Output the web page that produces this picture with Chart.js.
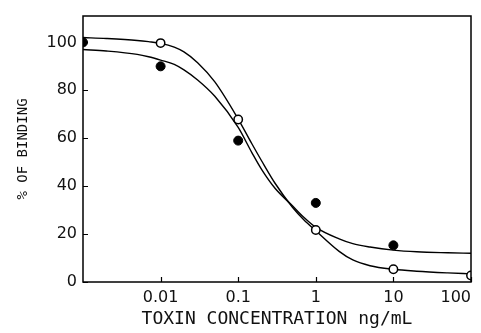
<!DOCTYPE html>
<html lang="en">

<head>
    <meta charset="UTF-8">
    <title>% of Binding vs Toxin Concentration</title>
    <style>
        html, body { margin: 0; padding: 0; background: #fff; }
        #wrap { width: 481px; height: 333px; }
    </style>
</head>

<body>
    <div id="wrap">
        <canvas id="myChart" width="481" height="333"></canvas>
    </div>

    <script src="https://cdn.jsdelivr.net/npm/chart.js@4.4.2/dist/chart.umd.min.js"></script>

    <script>
        // measured points
        var filledConc = [0.001, 0.01, 0.1, 1, 10];
        var filledBinding = [100, 90, 59, 33, 15.3];
        var openConc = [0.01, 0.1, 1, 10, 100];
        var openBinding = [99.7, 67.8, 21.7, 5.3, 2.7];

        // fitted curves
        var curveConc = [0.001, 0.002, 0.005, 0.007, 0.01, 0.015, 0.02, 0.03, 0.05, 0.1, 0.15, 0.2, 0.3, 0.5, 0.7, 1, 2, 3, 5, 10, 20, 50, 100];
        var openCurve = [102, 101.6, 100.8, 100.3, 99.6, 98.0, 96, 91.5, 83.5, 68, 57.7, 50.6, 41.1, 31.2, 26.0, 21.4, 12.8, 9.2, 6.8, 5.3, 4.5, 3.8, 3.4];
        var filledCurve = [97, 96.4, 95, 94, 92.6, 90.8, 88.5, 84.3, 77.5, 64.5, 54, 47, 39, 31.8, 27, 22.8, 18, 16, 14.6, 13.3, 12.6, 12.2, 12];

        // first entry is a blank slot at the left edge so the last label can sit inside
        var xTicks = [0.001, 0.01, 0.1, 1, 10, 100];
        var xTickLabels = ['', '0.01', '0.1', '1', '10', '100'];
        var yTicks = [0, 20, 40, 60, 80, 100];

        var toXY = function (xs, ys) {
            var out = [];
            for (var i = 0; i < xs.length; i++) {
                out.push({ x: xs[i], y: ys[i] });
            }
            return out;
        };

        // clip marks to the plot box, then draw the box and inward tick marks
        var framePlugin = {
            id: 'frame',
            beforeDatasetsDraw: function (chart) {
                var a = chart.chartArea;
                chart.ctx.save();
                chart.ctx.beginPath();
                chart.ctx.rect(a.left, a.top, a.right - a.left, a.bottom - a.top);
                chart.ctx.clip();
            },
            afterDatasetsDraw: function (chart) {
                var ctx = chart.ctx;
                ctx.restore();
                var a = chart.chartArea;
                var xs = chart.scales.x;
                var ys = chart.scales.y;
                ctx.save();
                ctx.strokeStyle = '#000';
                ctx.lineWidth = 1.5;
                ctx.strokeRect(a.left, a.top, a.right - a.left, a.bottom - a.top);
                ctx.lineWidth = 1.2;
                ctx.beginPath();
                xTicks.forEach(function (v, i) {
                    if (!xTickLabels[i]) return;
                    var px = Math.round(xs.getPixelForValue(v)) + 0.5;
                    ctx.moveTo(px, a.bottom);
                    ctx.lineTo(px, a.bottom - 5);
                });
                yTicks.forEach(function (v) {
                    var py = Math.round(ys.getPixelForValue(v)) + 0.5;
                    ctx.moveTo(a.left, py);
                    ctx.lineTo(a.left + 5, py);
                });
                ctx.stroke();
                ctx.restore();
            }
        };

        var ctx = document.getElementById('myChart');
        new Chart(ctx, {
            type: 'scatter',
            data: {
                datasets: [
                    {
                        data: toXY(curveConc, openCurve),
                        showLine: true,
                        borderColor: '#000',
                        borderWidth: 1.4,
                        pointRadius: 0,
                        cubicInterpolationMode: 'monotone',
                        order: 2
                    },
                    {
                        data: toXY(curveConc, filledCurve),
                        showLine: true,
                        borderColor: '#000',
                        borderWidth: 1.4,
                        pointRadius: 0,
                        cubicInterpolationMode: 'monotone',
                        order: 2
                    },
                    {
                        data: toXY(openConc, openBinding),
                        pointRadius: 4.2,
                        pointBackgroundColor: '#fff',
                        pointBorderColor: '#000',
                        pointBorderWidth: 1.5,
                        order: 1
                    },
                    {
                        data: toXY(filledConc, filledBinding),
                        pointRadius: 4.5,
                        pointBackgroundColor: '#000',
                        pointBorderColor: '#000',
                        pointBorderWidth: 1,
                        order: 1
                    }
                ]
            },
            options: {
                responsive: false,
                animation: false,
                layout: {
                    padding: { top: 16, right: 10, left: 0, bottom: 0 }
                },
                scales: {
                    x: {
                        type: 'logarithmic',
                        min: 0.001,
                        max: 100,
                        grid: { display: false, drawTicks: false },
                        border: { display: false },
                        afterBuildTicks: function (scale) {
                            scale.ticks = xTicks.map(function (v) { return { value: v }; });
                        },
                        afterFit: function (scale) {
                            scale.height = 51;
                            scale.paddingLeft = 0;
                            scale.paddingRight = 0;
                        },
                        ticks: {
                            autoSkip: false,
                            maxRotation: 0,
                            align: 'inner',
                            padding: 6,
                            color: '#111',
                            font: { family: 'DejaVu Sans', size: 16 },
                            callback: function (value) {
                                var i = xTicks.indexOf(value);
                                return i >= 0 ? xTickLabels[i] : '';
                            }
                        },
                        title: {
                            display: true,
                            text: 'TOXIN CONCENTRATION ng/mL',
                            color: '#111',
                            font: { family: 'DejaVu Sans Mono', size: 18 },
                            padding: { top: 0, bottom: 3 }
                        }
                    },
                    y: {
                        min: 0,
                        max: 111,
                        grid: { display: false, drawTicks: false },
                        border: { display: false },
                        afterBuildTicks: function (scale) {
                            scale.ticks = yTicks.map(function (v) { return { value: v }; });
                        },
                        afterFit: function (scale) {
                            scale.width = 83;
                            scale.paddingTop = 0;
                            scale.paddingBottom = 0;
                        },
                        ticks: {
                            padding: 6,
                            color: '#111',
                            font: { family: 'DejaVu Sans', size: 16 }
                        },
                        title: {
                            display: true,
                            text: '% OF BINDING',
                            color: '#111',
                            font: { family: 'DejaVu Sans Mono', size: 14 },
                            padding: { top: 15, bottom: 0 }
                        }
                    }
                },
                plugins: {
                    legend: { display: false },
                    tooltip: { enabled: false }
                }
            },
            plugins: [framePlugin]
        });
    </script>
</body>

</html>
